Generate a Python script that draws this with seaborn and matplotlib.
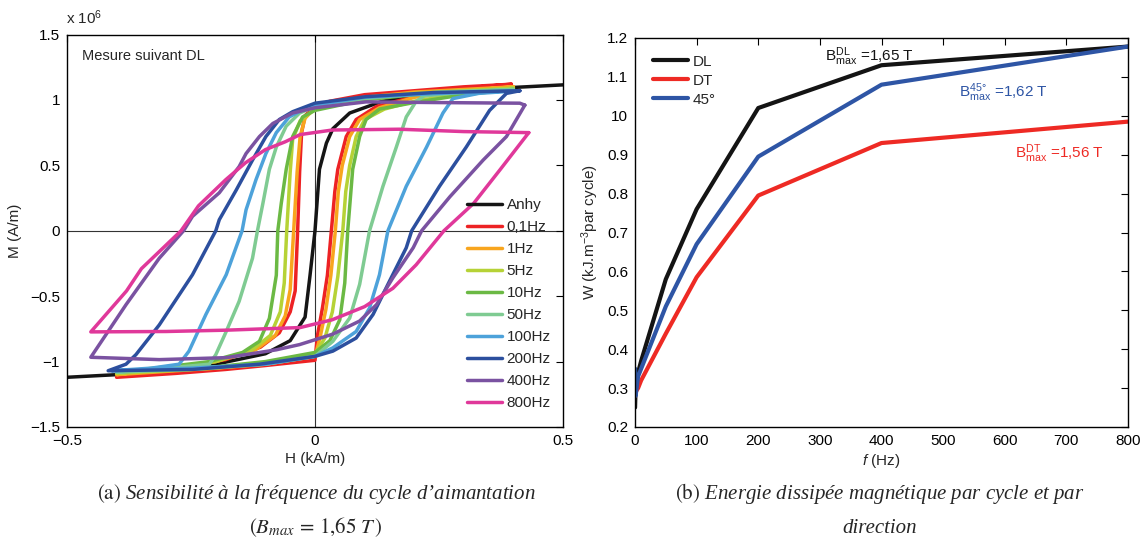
import numpy as np
import pandas as pd
import matplotlib
matplotlib.use('Agg')
import matplotlib.pyplot as plt
from matplotlib.ticker import FixedLocator, FuncFormatter
import seaborn as sns

# ---------- (a) cycles M(H) : H en kA/m, M en 1e6 A/m ----------
loop_names = ['Anhy', '0,1Hz', '1Hz', '5Hz', '10Hz', '50Hz', '100Hz', '200Hz', '400Hz', '800Hz']
loop_colors = ['#151515', '#ED2224', '#F8A51E', '#B6D236', '#6BB944', '#7FCB92',
               '#4DA2DA', '#2C4F9E', '#7A52A1', '#E0389A']

# courbe anhysteretique
anhy_H = [-0.5, -0.4, -0.3, -0.2, -0.1, -0.05, -0.02, -0.01, 0.0, 0.009, 0.023, 0.036, 0.07, 0.136, 0.237, 0.373, 0.5]
anhy_M = [-1.12, -1.10, -1.06, -1.02, -0.94, -0.84, -0.66, -0.34, 0.0, 0.47, 0.67, 0.78, 0.90, 0.99, 1.05, 1.09, 1.115]

# chaque cycle : branche descendante puis branche montante
h_01 = [0.396, 0.30, 0.20, 0.10, 0.03, 0.0, -0.02, -0.027, -0.031, -0.035, -0.04, -0.05, -0.072, -0.11, -0.18, -0.28, -0.40,
        -0.40, -0.28, -0.18, -0.10, 0.0, 0.005, 0.015, 0.025, 0.033, 0.04, 0.046, 0.063, 0.083, 0.124, 0.20, 0.30, 0.396]
m_01 = [1.12, 1.10, 1.07, 1.04, 0.99, 0.95, 0.88, 0.75, 0.45, 0.0, -0.46, -0.62, -0.78, -0.89, -0.985, -1.05, -1.12,
        -1.12, -1.09, -1.06, -1.03, -0.99, -0.80, -0.59, -0.34, 0.0, 0.30, 0.47, 0.72, 0.85, 0.95, 1.025, 1.09, 1.12]

h_1 = [0.40, 0.20, 0.10, 0.0, -0.02, -0.03, -0.036, -0.043, -0.05, -0.06, -0.08, -0.12, -0.20, -0.30, -0.40,
       -0.40, -0.20, -0.10, 0.0, 0.01, 0.022, 0.032, 0.041, 0.047, 0.055, 0.07, 0.09, 0.13, 0.20, 0.30, 0.40]
m_1 = [1.10, 1.06, 1.02, 0.94, 0.86, 0.72, 0.45, 0.0, -0.45, -0.65, -0.80, -0.91, -1.0, -1.05, -1.10,
       -1.10, -1.05, -1.02, -0.96, -0.82, -0.60, -0.34, 0.0, 0.30, 0.50, 0.72, 0.85, 0.94, 1.02, 1.07, 1.10]

h_5 = [0.40, 0.20, 0.10, 0.0, -0.03, -0.045, -0.05, -0.057, -0.062, -0.07, -0.09, -0.13, -0.20, -0.30, -0.40,
       -0.40, -0.20, -0.10, 0.0, 0.02, 0.035, 0.046, 0.056, 0.062, 0.07, 0.083, 0.10, 0.14, 0.20, 0.30, 0.40]
m_5 = [1.09, 1.05, 1.01, 0.93, 0.84, 0.70, 0.45, 0.0, -0.40, -0.62, -0.80, -0.92, -1.0, -1.05, -1.09,
       -1.09, -1.05, -1.01, -0.94, -0.82, -0.62, -0.35, 0.0, 0.30, 0.50, 0.72, 0.85, 0.93, 0.99, 1.05, 1.09]

h_10 = [0.40, 0.20, 0.10, 0.0, -0.025, -0.045, -0.058, -0.068, -0.075, -0.078, -0.092, -0.112, -0.146, -0.213, -0.30, -0.40,
        -0.40, -0.20, -0.10, 0.0, 0.03, 0.05, 0.06, 0.066, 0.076, 0.09, 0.103, 0.13, 0.20, 0.30, 0.40]
m_10 = [1.08, 1.04, 1.0, 0.92, 0.87, 0.72, 0.47, 0.21, 0.0, -0.34, -0.67, -0.845, -0.93, -1.0, -1.04, -1.08,
        -1.08, -1.04, -1.0, -0.93, -0.84, -0.68, -0.40, 0.0, 0.47, 0.72, 0.85, 0.93, 0.98, 1.04, 1.08]

h_50 = [0.40, 0.25, 0.10, 0.0, -0.031, -0.058, -0.078, -0.092, -0.105, -0.116, -0.126, -0.153, -0.179, -0.20, -0.213, -0.30, -0.40,
        -0.40, -0.25, -0.10, 0.0, 0.036, 0.07, 0.09, 0.11, 0.137, 0.164, 0.184, 0.204, 0.22, 0.30, 0.40]
m_50 = [1.08, 1.06, 1.01, 0.95, 0.90, 0.80, 0.64, 0.47, 0.21, 0.0, -0.21, -0.54, -0.77, -0.947, -1.02, -1.05, -1.08,
        -1.08, -1.06, -1.02, -0.96, -0.845, -0.667, -0.41, 0.0, 0.34, 0.64, 0.87, 0.99, 1.03, 1.06, 1.08]

h_100 = [0.41, 0.25, 0.10, 0.0, -0.018, -0.052, -0.078, -0.099, -0.119, -0.139, -0.147, -0.179, -0.22, -0.254, -0.274, -0.33, -0.41,
         -0.41, -0.25, -0.10, 0.0, 0.036, 0.083, 0.11, 0.13, 0.147, 0.184, 0.225, 0.258, 0.278, 0.33, 0.41]
m_100 = [1.07, 1.05, 1.02, 0.96, 0.937, 0.87, 0.75, 0.59, 0.39, 0.16, 0.0, -0.336, -0.64, -0.92, -1.02, -1.05, -1.07,
         -1.07, -1.05, -1.02, -0.96, -0.895, -0.77, -0.59, -0.336, 0.0, 0.34, 0.64, 0.90, 1.01, 1.05, 1.07]

h_200 = [0.413, 0.238, 0.103, 0.0, -0.045, -0.072, -0.099, -0.126, -0.159, -0.193, -0.20, -0.247, -0.314, -0.361, -0.381, -0.417,
         -0.417, -0.247, -0.112, 0.0, 0.036, 0.083, 0.117, 0.15, 0.184, 0.195, 0.251, 0.305, 0.352, 0.386, 0.413]
m_200 = [1.07, 1.056, 1.025, 0.975, 0.91, 0.85, 0.72, 0.54, 0.31, 0.084, 0.0, -0.336, -0.72, -0.947, -1.02, -1.07,
         -1.07, -1.06, -1.02, -0.96, -0.92, -0.82, -0.64, -0.387, -0.13, 0.0, 0.34, 0.64, 0.92, 1.05, 1.07]

h_400 = [0.423, 0.413, 0.238, 0.103, 0.0, -0.045, -0.085, -0.112, -0.139, -0.153, -0.193, -0.247, -0.265, -0.314, -0.381, -0.452,
         -0.452, -0.314, -0.179, -0.078, -0.031, 0.036, 0.09, 0.124, 0.157, 0.198, 0.215, 0.272, 0.339, 0.386, 0.423]
m_400 = [0.96, 0.975, 0.98, 0.985, 0.94, 0.90, 0.82, 0.72, 0.59, 0.49, 0.29, 0.11, 0.0, -0.21, -0.565, -0.967,
         -0.967, -0.985, -0.97, -0.91, -0.87, -0.79, -0.69, -0.565, -0.36, -0.13, 0.0, 0.26, 0.54, 0.72, 0.96]

h_800 = [0.431, 0.30, 0.17, 0.035, -0.03, -0.06, -0.10, -0.14, -0.18, -0.235, -0.27, -0.35, -0.38, -0.452,
         -0.452, -0.30, -0.18, -0.03, 0.035, 0.10, 0.157, 0.204, 0.26, 0.32, 0.373, 0.431]
m_800 = [0.75, 0.758, 0.776, 0.77, 0.735, 0.68, 0.62, 0.52, 0.39, 0.19, 0.0, -0.29, -0.46, -0.773,
         -0.773, -0.77, -0.76, -0.74, -0.68, -0.58, -0.44, -0.26, 0.0, 0.21, 0.466, 0.75]

loops_H = [anhy_H, h_01, h_1, h_5, h_10, h_50, h_100, h_200, h_400, h_800]
loops_M = [anhy_M, m_01, m_1, m_5, m_10, m_50, m_100, m_200, m_400, m_800]

# ---------- (b) energie dissipee par cycle ----------
freq = [0.1, 1, 5, 10, 50, 100, 200, 400, 800]
w_DL = [0.25, 0.30, 0.34, 0.37, 0.58, 0.76, 1.02, 1.13, 1.178]
w_DT = [0.28, 0.29, 0.30, 0.32, 0.44, 0.585, 0.795, 0.93, 0.985]
w_45 = [0.35, 0.28, 0.33, 0.35, 0.51, 0.67, 0.895, 1.08, 1.178]
directions = ['DL', 'DT', '45°']
dir_colors = ['#141414', '#EE2A24', '#2E55A5']
w_ticks = [0.2, 0.3, 0.4, 0.5, 0.6, 0.7, 0.8, 0.9, 1.0, 1.1, 1.2]
w_ticklabels = ['0.2', '0.3', '0.4', '0.5', '0.6', '0.7', '0.8', '0.9', '10', '1.1', '1.2']

sns.set_style('white')
plt.rcParams['font.family'] = ['Liberation Sans', 'DejaVu Sans']
plt.rcParams['mathtext.fontset'] = 'custom'
plt.rcParams['mathtext.rm'] = 'Liberation Sans'
plt.rcParams['mathtext.it'] = 'Liberation Sans:italic'
plt.rcParams['axes.unicode_minus'] = True

W, Hh = 1142, 538
fig = plt.figure(figsize=(W / 100, Hh / 100), dpi=100)
ax1 = fig.add_axes([67 / W, 111 / Hh, 496 / W, 392.5 / Hh])
ax2 = fig.add_axes([635 / W, 111 / Hh, 493 / W, 389 / Hh])

fs = 11

# ---- panel (a)
ax1.axhline(0, color='#333333', lw=0.8, zorder=0)
ax1.axvline(0, color='#333333', lw=0.8, zorder=0)
for name, col, H, M in zip(loop_names, loop_colors, loops_H, loops_M):
    sns.lineplot(x=H, y=M, sort=False, estimator=None, color=col, lw=2.5,
                 label=name, ax=ax1)
ax1.set_xlim(-0.5, 0.5)
ax1.set_ylim(-1.5, 1.5)
ax1.xaxis.set_major_locator(FixedLocator([-0.5, 0, 0.5]))
ax1.yaxis.set_major_locator(FixedLocator([-1.5, -1, -0.5, 0, 0.5, 1, 1.5]))
fmt = FuncFormatter(lambda v, p: ('%g' % v).replace('-', '\u2212'))
ax1.xaxis.set_major_formatter(fmt)
ax1.yaxis.set_major_formatter(fmt)
ax1.set_xlabel('H (kA/m)', fontsize=fs, labelpad=3)
ax1.set_ylabel('M (A/m)', fontsize=fs, labelpad=6)
ax1.text(0.03, 0.945, 'Mesure suivant DL', transform=ax1.transAxes, fontsize=10.5,
         va='center', ha='left')
fig.text(66 / W, 1 - 24 / Hh, r'x 10$^{\mathregular{6}}$', fontsize=fs, ha='left', va='baseline')
ax1.legend(loc='upper left', bbox_to_anchor=(0.80, 0.59), frameon=False, fontsize=fs,
           handlelength=2.3, handletextpad=0.3, labelspacing=0.52, borderaxespad=0, borderpad=0.2)

# ---- panel (b)
df = pd.DataFrame({
    'f': freq * 3,
    'W': w_DL + w_DT + w_45,
    'direction': ['DL'] * len(freq) + ['DT'] * len(freq) + ['45°'] * len(freq),
})
sns.lineplot(data=df, x='f', y='W', hue='direction', hue_order=directions,
             palette=dir_colors, lw=3, ax=ax2)
ax2.set_xlim(0, 800)
ax2.set_ylim(0.2, 1.2)
ax2.xaxis.set_major_locator(FixedLocator(list(range(0, 801, 100))))
ax2.yaxis.set_major_locator(FixedLocator(w_ticks))
ax2.set_yticklabels(w_ticklabels)
ax2.set_xlabel(r'$\it{f}$ (Hz)', fontsize=fs, labelpad=3)
ax2.set_ylabel(r'W (kJ.m$^{\mathregular{-3}}$par cycle)', fontsize=fs, labelpad=4)
ax2.legend(loc='upper left', bbox_to_anchor=(0.03, 0.965), frameon=False, fontsize=fs,
           handlelength=2.3, handletextpad=0.3, labelspacing=0.33, borderaxespad=0, borderpad=0.2)
ax2.text(308, 1.14, r'$\mathregular{B^{DL}_{max}}$ =1,65 T', color=dir_colors[0], fontsize=fs, va='baseline')
ax2.text(526, 1.048, r'$\mathregular{B^{45\degree}_{max}}$ =1,62 T', color=dir_colors[2], fontsize=fs, va='baseline')
ax2.text(617, 0.892, r'$\mathregular{B^{DT}_{max}}$ =1,56 T', color=dir_colors[1], fontsize=fs, va='baseline')

for ax in (ax1, ax2):
    ax.tick_params(direction='in', top=True, right=True, length=5, width=0.8,
                   labelsize=fs, pad=5, colors='black')
    for s in ax.spines.values():
        s.set_linewidth(1.0)
        s.set_color('black')

# ---- legendes des figures
cap = dict(fontsize=15, family=['Liberation Serif', 'DejaVu Serif'], style='italic',
           ha='center', va='baseline', math_fontfamily='stix')
fig.text(316 / W, 1 - 499 / Hh, r'$\mathrm{(a)}$ Sensibilité à la fréquence du cycle d’aimantation', **cap)
fig.text(316 / W, 1 - 533 / Hh, r'$(B_{max}\, =\, 1{,}65\ T\,)$', **cap)
fig.text(880 / W, 1 - 499 / Hh, r'$\mathrm{(b)}$ Energie dissipée magnétique par cycle et par', **cap)
fig.text(880 / W, 1 - 533 / Hh, 'direction', **cap)

fig.savefig('out.png', dpi=100)
